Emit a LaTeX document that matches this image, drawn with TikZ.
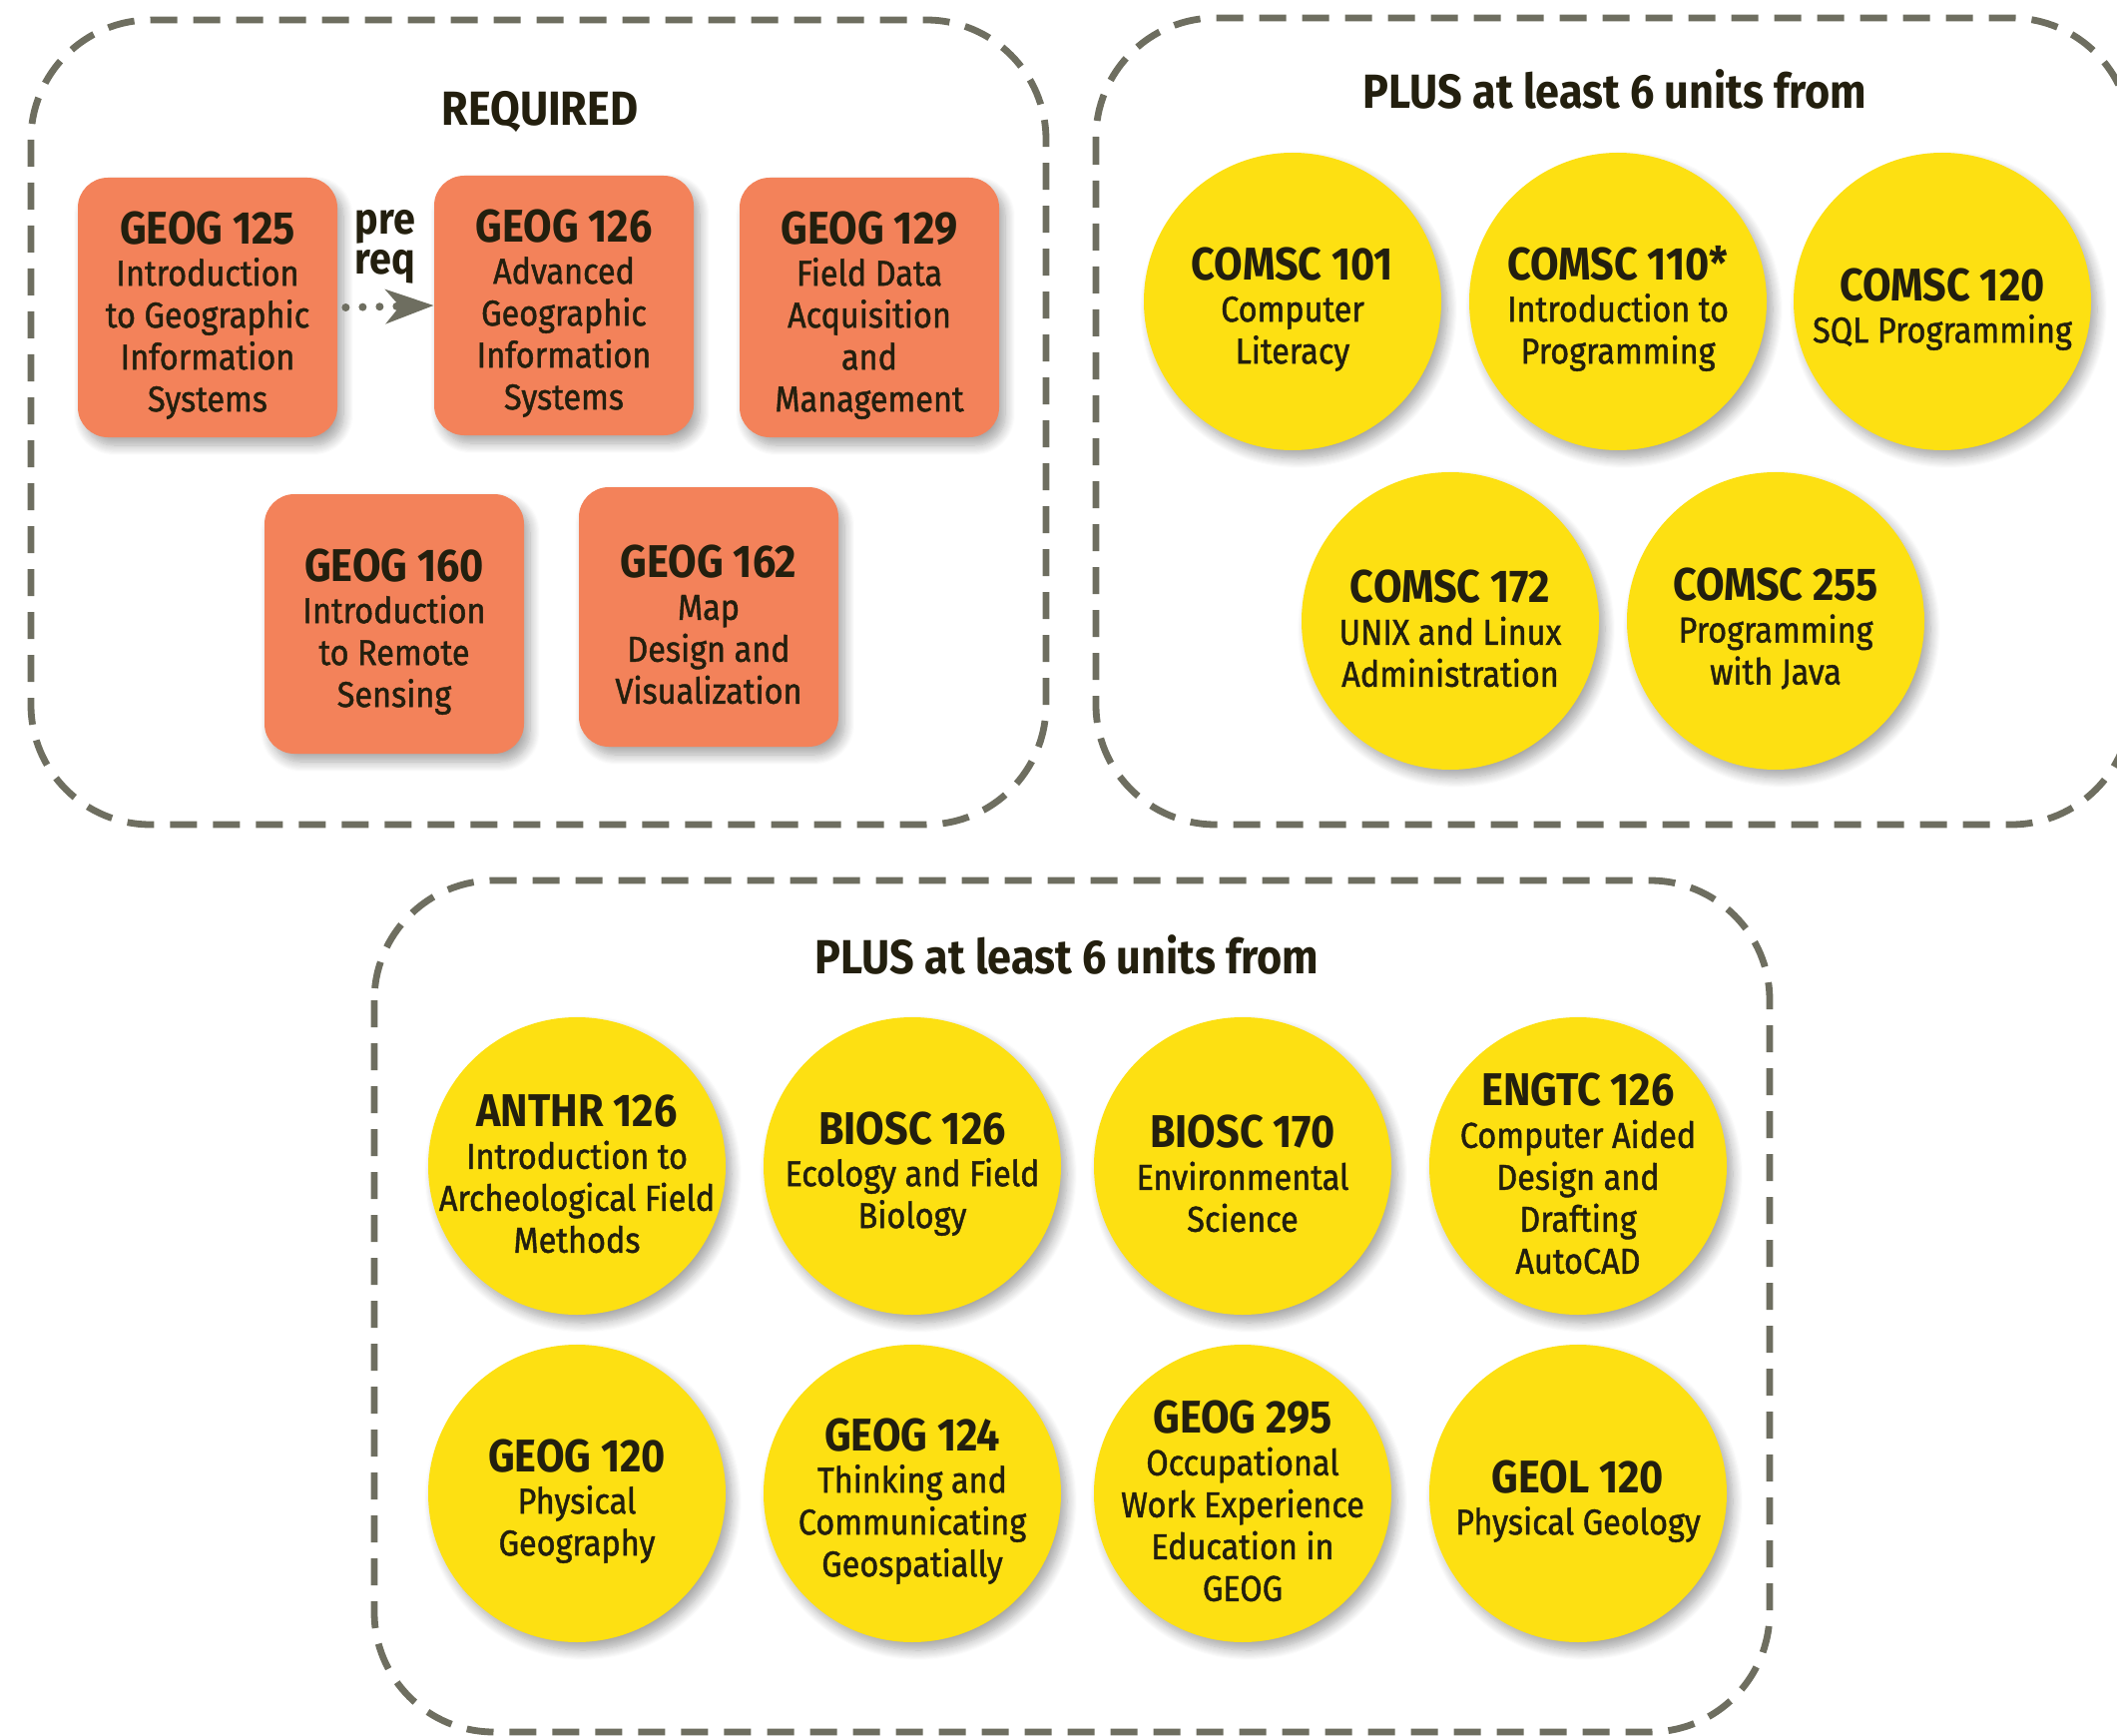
\documentclass[tikz,border=0pt]{standalone}
\usepackage{fontspec}
\setmainfont{Fira Sans}[FakeStretch=0.9]
\newfontfamily\bodyf{Fira Sans}[FakeStretch=0.9, FakeBold=1.2]
\usetikzlibrary{shadows.blur,arrows.meta}
\definecolor{orng}{HTML}{F3825A}
\definecolor{yell}{HTML}{FDE012}
\definecolor{dgray}{HTML}{6E6E60}
\definecolor{ink}{HTML}{231F0E}
\newcommand{\bodyfnt}{\bodyf\fontsize{18}{21}\selectfont}
\newcommand{\hd}[1]{{\rmfamily\fontsize{23}{21}\selectfont\bfseries\rule{0pt}{24pt}#1}}
\begin{document}
\begin{tikzpicture}[x=0.5pt,y=-0.5pt,
  grp/.style={draw=dgray, line width=3.4pt, dash pattern=on 13.5pt off 8pt, rounded corners=60pt},
  shd/.style={blur shadow={shadow xshift=3pt, shadow yshift=-4pt, shadow blur radius=5pt, shadow blur steps=10, shadow opacity=35}},
  req/.style={shd, fill=orng, rounded corners=15pt, minimum width=130pt, minimum height=130pt, align=center, text=ink, font=\bodyfnt, inner sep=2pt},
  opt/.style={shd, circle, fill=yell, minimum size=149pt, inner sep=-40pt, outer sep=0pt, align=center, text=ink, font=\bodyfnt},
  ttl/.style={font=\rmfamily\fontsize{24}{28}\selectfont\bfseries, text=ink},
  prereq/.style={draw=dgray, line width=4pt, line cap=round, dash pattern=on 0pt off 8.5pt, -{Stealth[length=24pt,width=17pt,inset=7pt,sep=0pt]}}
]
\useasboundingbox (0,0) rectangle (2121,1739);
% group frames
\draw[grp] (31,20) rectangle (1048,826);
\draw[grp] (1098,18) rectangle (2135,826);
\draw[grp] (375,882) rectangle (1773,1735);
% titles
\node[ttl] (treq) at (541,112) {REQUIRED};
\node[ttl] (tplus1) at (1618,89) {PLUS at least 6 units from};
\node[ttl] (tplus2) at (1069,956) {PLUS at least 6 units from};
% required
\node[req] (g125) at (208,308) {\hd{GEOG 125}\\Introduction\\to Geographic\\Information\\Systems};
\node[req] (g126) at (565,306) {\hd{GEOG 126}\\Advanced\\Geographic\\Information\\Systems};
\node[req] (g129) at (871,308) {\hd{GEOG 129}\\Field Data\\Acquisition\\and\\Management};
\node[req] (g160) at (395,625) {\hd{GEOG 160}\\Introduction\\to Remote\\Sensing};
\node[req] (g162) at (710,618) {\hd{GEOG 162}\\Map\\Design and\\Visualization};
\node[font=\rmfamily\fontsize{22}{20}\selectfont\bfseries, text=ink, align=left] (pr) at (386,247) {pre\\req};
\draw[prereq] ([xshift=4pt]g125.east) -- (g126.west);
% comsc options
\node[opt] (c101) at (1295,302) {\hd{COMSC 101}\\Computer\\Literacy};
\node[opt] (c110) at (1621,302) {\hd{COMSC 110*}\\Introduction to\\Programming};
\node[opt] (c120) at (1946,302) {\hd{COMSC 120}\\SQL Programming};
\node[opt] (c172) at (1453,622) {\hd{COMSC 172}\\UNIX and Linux\\Administration};
\node[opt] (c255) at (1779,622) {\hd{COMSC 255}\\Programming\\with Java};
% other options
\node[opt] (a126) at (578,1168) {\hd{ANTHR 126}\\Introduction to\\Archeological Field\\Methods};
\node[opt] (b126) at (914,1168) {\hd{BIOSC 126}\\Ecology and Field\\Biology};
\node[opt] (b170) at (1245,1168) {\hd{BIOSC 170}\\Environmental\\Science};
\node[opt] (e126) at (1581,1168) {\hd{ENGTC 126}\\Computer Aided\\Design and\\Drafting\\AutoCAD};
\node[opt] (gg120) at (578,1496) {\hd{GEOG 120}\\Physical\\Geography};
\node[opt] (gg124) at (914,1496) {\hd{GEOG 124}\\Thinking and\\Communicating\\Geospatially};
\node[opt] (gg295) at (1245,1496) {\hd{GEOG 295}\\Occupational\\Work Experience\\Education in\\GEOG};
\node[opt] (gl120) at (1581,1496) {\hd{GEOL 120}\\Physical Geology};
\end{tikzpicture}
\end{document}
